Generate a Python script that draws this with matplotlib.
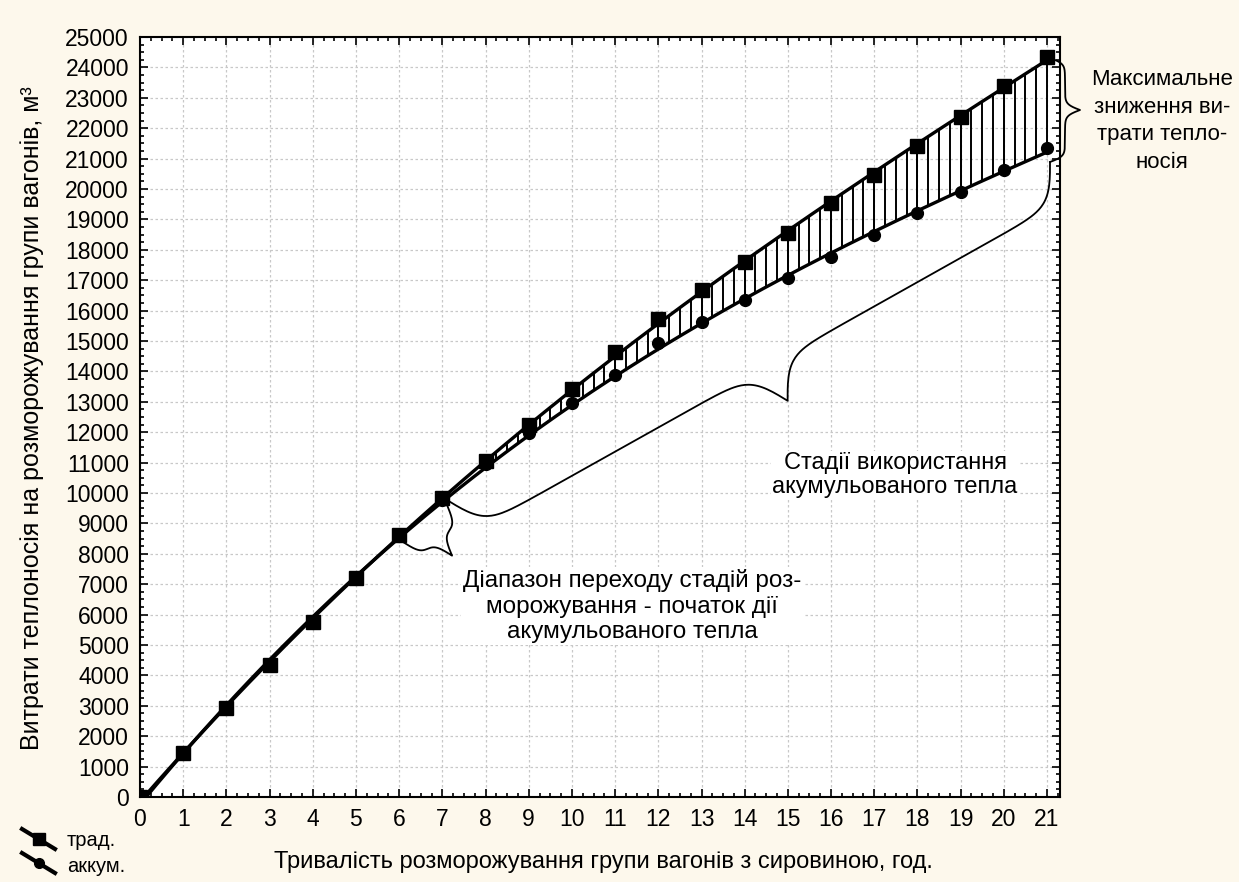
import numpy as np
import matplotlib
matplotlib.use("Agg")
import matplotlib.pyplot as plt
from matplotlib.lines import Line2D
from matplotlib.ticker import MultipleLocator

plt.rcParams['font.family'] = ['Liberation Sans', 'DejaVu Sans']

# data
hours = np.arange(0, 22)
trad = [0, 1440, 2930, 4340, 5760, 7200, 8620, 9840, 11050, 12240, 13420,
        14640, 15720, 16680, 17600, 18550, 19540, 20460, 21410, 22370, 23390, 24340]
akum = [0, 1430, 2900, 4330, 5730, 7180, 8580, 9760, 10950, 11970, 12960,
        13880, 14930, 15630, 16350, 17070, 17760, 18490, 19210, 19900, 20620, 21350]

xlabel = "Тривалість розморожування групи вагонів з сировиною, год."
ylabel = "Витрати теплоносія на розморожування групи вагонів, м³"
note_max = "Максимальне\nзниження ви-\nтрати тепло-\nносія"
note_stage = "Стадії використання\nакумульованого тепла"
note_range = "Діапазон переходу стадій роз-\nморожування - початок дії\nакумульованого тепла"

W, H = 1239, 882
bg = '#fdf8ec'

fig = plt.figure(figsize=(W / 100, H / 100), dpi=100, facecolor=bg)
ax = fig.add_axes([140 / W, 1 - 797 / H, (1060 - 140) / W, (797 - 37) / H])
ax.set_facecolor('white')

# smooth fits through the points
xs = np.linspace(0, 21, 400)
p_up = np.polyfit(hours, trad, 3)
p_lo = np.polyfit(hours, akum, 3)
up = np.polyval(p_up, xs)
lo = np.polyval(p_lo, xs)

# hatching between the curves
xh = np.arange(8.25, 21.0, 0.25)
ax.vlines(xh, np.polyval(p_lo, xh), np.polyval(p_up, xh), color='black', lw=1.4, zorder=3)
xi = hours[8:]
ax.vlines(xi, np.array(akum)[8:], np.array(trad)[8:], color='black', lw=1.4, zorder=3)

ax.plot(xs, up, color='black', lw=2.4, zorder=4)
ax.plot(xs, lo, color='black', lw=2.4, zorder=4)
ax.plot(hours, akum, 'o', color='black', ms=8.5, zorder=5)
ax.plot(hours, trad, 's', color='black', ms=9.5, zorder=6)

ax.set_xlim(0, 21.3)
ax.set_ylim(0, 25000)
ax.xaxis.set_major_locator(MultipleLocator(1))
ax.xaxis.set_minor_locator(MultipleLocator(0.25))
ax.yaxis.set_major_locator(MultipleLocator(1000))
ax.yaxis.set_minor_locator(MultipleLocator(250))
ax.tick_params(which='both', direction='in', top=True, right=True, labelsize=16.5, width=1.2)
ax.tick_params(which='major', length=6)
ax.tick_params(which='minor', length=3)
ax.tick_params(axis='x', pad=8)
ax.tick_params(axis='y', pad=8)
for s in ax.spines.values():
    s.set_linewidth(1.5)
ax.grid(True, which='major', color='#c8c8c8', linestyle=(0, (2, 2)), lw=0.9)
ax.set_axisbelow(True)

fig.text(603 / W, 1 - 862 / H, xlabel, ha='center', va='center', fontsize=17)
fig.text(32 / W, 1 - 418 / H, ylabel, ha='center', va='center', rotation=90, fontsize=18)


def brace(p0, p1, w, beta):
    # curly brace between two pixel points, bulging to the right of p0->p1
    p0 = np.array(p0, float)
    p1 = np.array(p1, float)
    d = p1 - p0
    L = np.hypot(*d)
    u = d / L
    n = np.array([-u[1], u[0]])
    half = np.linspace(0, L / 2, 200)
    yh = 1 / (1 + np.exp(-beta * half)) + 1 / (1 + np.exp(-beta * (half - L / 2))) - 0.5
    s = np.concatenate([half, L - half[::-1]])
    y = np.concatenate([yh, yh[::-1]]) * w
    pts = p0[None, :] + s[:, None] * u[None, :] - y[:, None] * n[None, :]
    fig.add_artist(Line2D(pts[:, 0] / W, 1 - pts[:, 1] / H, transform=fig.transFigure,
                          color='black', lw=1.3, zorder=10))


brace((1050, 58), (1050, 162), 30, 0.35)
brace((447, 500), (1050, 162), -80, 0.09)
brace((403, 542), (447, 505), -42, 0.3)

fig.text(1162 / W, 1 - 121 / H, note_max, ha='center', va='center', fontsize=16, linespacing=1.4)
fig.text(895 / W, 1 - 475 / H, note_stage, ha='center', va='center', fontsize=17,
         linespacing=1.1, bbox=dict(facecolor='white', edgecolor='none', pad=1))
fig.text(632 / W, 1 - 606 / H, note_range, ha='center', va='center', fontsize=17.5,
         linespacing=1.22, bbox=dict(facecolor='white', edgecolor='none', pad=1))

# legend
fig.add_artist(Line2D([22 / W, 55 / W], [1 - 829 / H, 1 - 849 / H], color='black', lw=3))
fig.add_artist(Line2D([38.5 / W], [1 - 839 / H], color='black', marker='s', ms=8, lw=0))
fig.add_artist(Line2D([22 / W, 55 / W], [1 - 853 / H, 1 - 873 / H], color='black', lw=3))
fig.add_artist(Line2D([38.5 / W], [1 - 863 / H], color='black', marker='o', ms=7, lw=0))
fig.text(67 / W, 1 - 841 / H, "трад.", ha='left', va='center', fontsize=14.5)
fig.text(67 / W, 1 - 866 / H, "аккум.", ha='left', va='center', fontsize=14.5)

fig.savefig('out.png', dpi=100, facecolor=bg)
